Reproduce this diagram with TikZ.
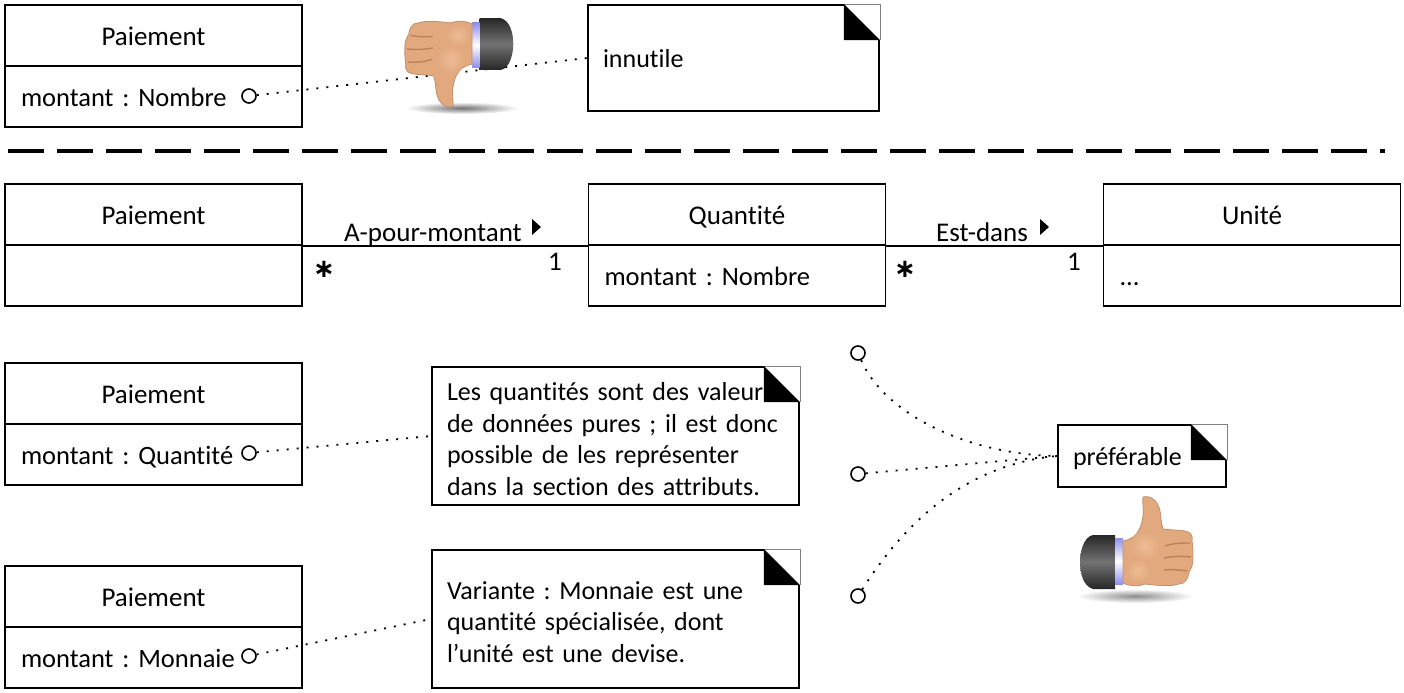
\documentclass[tikz,border=0pt]{standalone}
\usepackage{fontspec}
\setmainfont[Ligatures=NoCommon]{Carlito}
\newfontfamily\starfont{DejaVu Sans}
\frenchspacing
\definecolor{skin}{HTML}{E2A97F}
\definecolor{skinlight}{HTML}{EDBB94}
\definecolor{skindark}{HTML}{BE8058}
\definecolor{cuffband}{HTML}{8F8FEE}
\newcommand{\notecorner}[1]{
  \fill[white] (#1.north east) ++(-36,-1) rectangle ++(37,37);
  \draw[gray,line width=0.4pt] (#1.north east) ++(-36,0) -- ++(36,0) -- ++(0,36);
  \fill (#1.north east) ++(-36,0) -- ++(36,36) -- ++(-36,0) -- cycle;
}
\tikzset{
  classhead/.style={draw,line width=0.9pt,minimum width=148.5pt,minimum height=30.5pt,inner sep=0pt,text height=11.5pt,text depth=2pt},
  classbody/.style={draw,line width=0.9pt,minimum height=30.5pt,text width=132.5pt,inner xsep=8pt,inner ysep=0pt,align=left,text height=11.5pt,text depth=2pt,font=\fontsize{13.25}{15}\selectfont},
  notebox/.style={draw,line width=0.9pt,inner xsep=7.5pt,inner ysep=0pt,align=left,font=\fontsize{13}{15.8}\selectfont,execute at begin node={\rule{0pt}{12pt}}},
  anchorcircle/.style={circle,draw,line width=0.8pt,fill=white,minimum size=7pt,inner sep=0pt},
  dotlink/.style={line width=0.9pt,dash pattern=on 1pt off 4pt},
  assoclabel/.style={inner sep=0pt,anchor=base},
  starlabel/.style={inner sep=0pt,font=\starfont\bfseries\fontsize{13}{13}\selectfont},
  handpic/.pic={
    % manchette
    \shade[top color=black!85,bottom color=black!85,middle color=black!55]
      (-8,-26) -- (-30,-26) .. controls (-40,-24) and (-43,-8) .. (-43,1)
      .. controls (-43,12) and (-40,25) .. (-30,28) -- (-8,28) -- cycle;
    \shade[top color=cuffband,bottom color=cuffband,middle color=white] (-8,-23) rectangle (0,23);
    % main
    \filldraw[fill=skin,draw=skin!85!black,line width=0.4pt]
      (0,-20) .. controls (12,-22) and (18,-30) .. (20,-45)
      .. controls (21,-52) and (19,-60) .. (20,-64)
      .. controls (28,-66) and (35,-60) .. (37,-50)
      .. controls (38,-44) and (38,-38) .. (40,-32)
      .. controls (48,-31) and (56,-31) .. (62,-30)
      .. controls (68,-29) and (70,-25) .. (69,-20)
      .. controls (70,-14) and (70,-8) .. (70,-3)
      .. controls (70,4) and (68,8) .. (66,11)
      .. controls (65,18) and (62,23) .. (56,23)
      .. controls (48,26) and (30,24) .. (22,23)
      .. controls (14,26) and (6,25) .. (0,22) -- cycle;
    \shade[inner color=skinlight,outer color=skin] (22,-15) circle (15);
    \shade[inner color=skinlight,outer color=skin] (15,10) circle (12);
    \draw[skindark,line width=0.7pt] (42,-15) .. controls (50,-18) and (60,-18) .. (67,-18);
    \draw[skindark,line width=0.7pt] (41,-3) .. controls (50,-5) and (60,-5) .. (68,-4);
    \draw[skindark,line width=0.7pt] (41,9) .. controls (48,8) and (58,9) .. (64,10);
  }
}
\begin{document}
\begin{tikzpicture}[x=0.5pt,y=-0.5pt,font=\fontsize{13.5}{15}\selectfont]
\useasboundingbox (0,0) rectangle (1404,692);

% ombres
\shade[inner color=black!55,outer color=white] (462,108) ellipse (56 and 6);
\shade[inner color=black!45,outer color=white] (1135,596) ellipse (58 and 7);

% mauvais
\node[classhead] (pay1) at (153.5,35.5) {Paiement};
\node[classbody] (pay1b) at (153.5,96.5) {montant : Nombre};
\node[notebox,minimum width=145.5pt,minimum height=53pt,text width=130.5pt,execute at begin node={\rule[-2.5pt]{0pt}{12pt}}] (note1) at (733.5,58) {innutile};
\notecorner{note1}
\node[anchorcircle] (dot1) at (249,96) {};
\draw[dotlink] (dot1) -- (note1.west);

\coordinate (sepl) at (8,151);
\coordinate (sepr) at (1385,151);
\draw[line width=2pt,dash pattern=on 18pt off 6.5pt] (sepl) -- (sepr);

% associations
\node[classhead] (pay2) at (153.5,214.5) {Paiement};
\node[classbody] (pay2b) at (153.5,275.5) {};
\node[classhead] (qty) at (737,214.5) {Quantité};
\node[classbody] (qtyb) at (737,275.5) {montant : Nombre};
\node[classhead] (unit) at (1252,214.5) {Unité};
\node[classbody] (unitb) at (1252,275.5) {...};
\draw[line width=0.9pt] (pay2.south east) -- (qty.south west);
\draw[line width=0.9pt] (qty.south east) -- (unit.south west);
\node[assoclabel] (lab1) at (433,241) {A-pour-montant};
\node[assoclabel] (lab2) at (982,241) {Est-dans};
\fill (532,219) -- (541,227) -- (532,235) -- cycle;
\fill (1040,219) -- (1049,227) -- (1040,235) -- cycle;
\node[starlabel] (star1) at (324,269) {∗};
\node[starlabel] (star2) at (905,269) {∗};
\node[assoclabel] (one1) at (555,270) {1};
\node[assoclabel] (one2) at (1074,270) {1};

% bons
\node[classhead] (pay3) at (153.5,393.5) {Paiement};
\node[classbody] (pay3b) at (153.5,454.5) {montant : Quantité};
\node[notebox,minimum width=183.5pt,minimum height=69pt,text width=168.5pt] (note2) at (615.5,436)
  {Les quantités sont des valeur\\de données pures ; il est donc\\possible de les représenter\\dans la section des attributs.};
\notecorner{note2}
\node[anchorcircle] (dot2) at (249,453) {};
\draw[dotlink] (dot2) -- (note2.west);

\node[classhead] (pay4) at (153.5,596.5) {Paiement};
\node[classbody] (pay4b) at (153.5,657.5) {montant : Monnaie};
\node[notebox,minimum width=183.5pt,minimum height=69pt,text width=168.5pt] (note3) at (615.5,619)
  {Variante : Monnaie est une\\quantité spécialisée, dont\\l’unité est une devise.};
\notecorner{note3}
\node[anchorcircle] (dot3) at (249,656) {};
\draw[dotlink] (dot3) -- (note3.west);

% preferable
\node[notebox,minimum width=84pt,minimum height=31pt,text width=69pt] (note4) at (1142,456) {préférable};
\notecorner{note4}
\node[anchorcircle] (dot4) at (858,353) {};
\node[anchorcircle] (dot5) at (858,474) {};
\node[anchorcircle] (dot6) at (858,596) {};
\draw[dotlink] (dot4) .. controls (885,415) and (970,455) .. (note4.west);
\draw[dotlink] (dot5) -- (note4.west);
\draw[dotlink] (dot6) .. controls (900,530) and (960,465) .. (note4.west);

% mains
\pic[scale=0.96,rotate=180] at (472,45) {handpic};
\pic at (1123,561) {handpic};
\end{tikzpicture}
\end{document}
